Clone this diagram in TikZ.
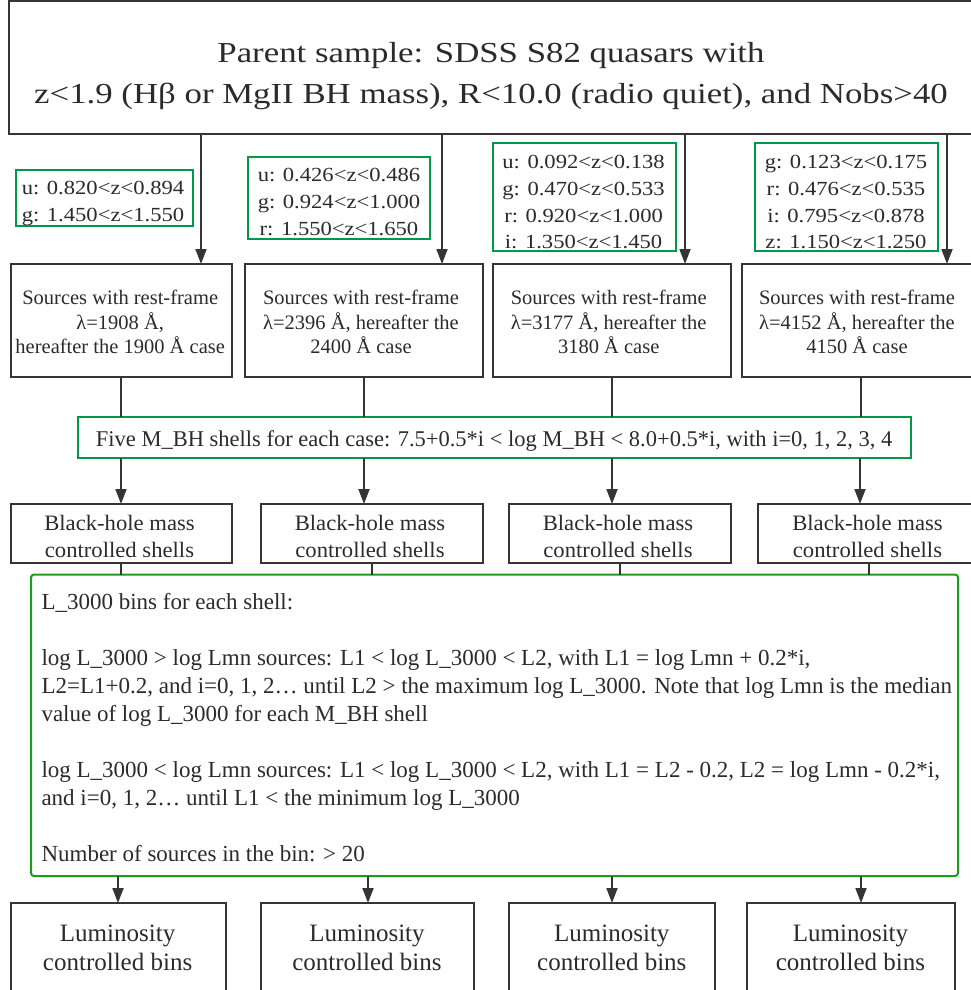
\documentclass[tikz,border=0pt]{standalone}
\usepackage{fontspec}
\setmainfont{Liberation Serif}
\newfontfamily\topfont[FakeStretch=1.2]{Liberation Serif}
\newfontfamily\zfont[FakeStretch=1.13]{Liberation Serif}
\newfontfamily\bhfont[FakeStretch=1.03]{Liberation Serif}
\usetikzlibrary{arrows.meta}
\definecolor{ink}{HTML}{2B2B2B}
\definecolor{lineink}{HTML}{353535}
\definecolor{zgreen}{HTML}{00994C}
\definecolor{bgreen}{HTML}{1E9A1E}
\begin{document}
\begin{tikzpicture}[x=1pt,y=-1pt,
 every node/.style={inner sep=0pt, outer sep=0pt, text=ink},
 blackbox/.style={draw=lineink, line width=2pt, fill=white},
 greenbox/.style={draw=zgreen, line width=2pt, fill=white},
 bigbox/.style={draw=bgreen, line width=2pt, rounded corners=3pt, fill=white},
 conn/.style={draw=lineink, line width=1.8pt},
 arr/.style={conn, -{Triangle[length=15pt,width=11pt]}},
 toptxt/.style={align=center, font=\topfont\fontsize{29}{41}\selectfont},
 ztxt/.style={align=center, font=\zfont\fontsize{20}{26.7}\selectfont},
 srctxt/.style={align=center, font=\fontsize{20.5}{24.2}\selectfont},
 fivetxt/.style={align=center, font=\fontsize{22.5}{27}\selectfont},
 bhtxt/.style={align=center, font=\bhfont\fontsize{22}{27}\selectfont},
 bigtxt/.style={align=left, font=\fontsize{23}{28}\selectfont},
 lumtxt/.style={align=center, font=\fontsize{25}{29}\selectfont},
]
\path[use as bounding box] (0,0) rectangle (971,990);
\clip (0,0) rectangle (971,990);
\fill[white] (0,0) rectangle (971,990);

% top box
\node[blackbox, minimum width=964pt, minimum height=133pt] (top) at (491,67.5) {};
\node[toptxt] (toptext) at (491,74.5) {\strut Parent sample: SDSS S82 quasars with\\ z<1.9 (Hβ or MgII BH mass), R<10.0 (radio quiet), and Nobs>40\strut};

% redshift boxes
\node[greenbox, minimum width=177pt, minimum height=56pt] (z1) at (104,198) {};
\node[greenbox, minimum width=182pt, minimum height=82pt] (z2) at (339,198) {};
\node[greenbox, minimum width=182.5pt, minimum height=108pt] (z3) at (584.25,197) {};
\node[greenbox, minimum width=183pt, minimum height=108pt] (z4) at (846.5,197) {};
\node[ztxt] (zt1) at (103,203) {\strut u: 0.820<z<0.894\\ g: 1.450<z<1.550\strut};
\node[ztxt] (zt2) at (339,203) {\strut u: 0.426<z<0.486\\ g: 0.924<z<1.000\\ r: 1.550<z<1.650\strut};
\node[ztxt] (zt3) at (583.6,203.5) {\strut u: 0.092<z<0.138\\ g: 0.470<z<0.533\\ r: 0.920<z<1.000\\ i: 1.350<z<1.450\strut};
\node[ztxt] (zt4) at (846,203.5) {\strut g: 0.123<z<0.175\\ r: 0.476<z<0.535\\ i: 0.795<z<0.878\\ z: 1.150<z<1.250\strut};

% source boxes
\node[blackbox, minimum width=221pt, minimum height=113pt] (s1) at (121,320.5) {};
\node[blackbox, minimum width=238pt, minimum height=113pt] (s2) at (364,320.5) {};
\node[blackbox, minimum width=238pt, minimum height=113pt] (s3) at (612,320.5) {};
\node[blackbox, minimum width=234pt, minimum height=113pt] (s4) at (859,320.5) {};
\node[srctxt] (st1) at (120.2,324.3) {\strut Sources with rest-frame\\ λ=1908 Å,\\ hereafter the 1900 Å case\strut};
\node[srctxt] (st2) at (361,324.3) {\strut Sources with rest-frame\\ λ=2396 Å, hereafter the\\ 2400 Å case\strut};
\node[srctxt] (st3) at (608.7,324.3) {\strut Sources with rest-frame\\ λ=3177 Å, hereafter the\\ 3180 Å case\strut};
\node[srctxt] (st4) at (857,324.3) {\strut Sources with rest-frame\\ λ=4152 Å, hereafter the\\ 4150 Å case\strut};

% five shells box
\node[greenbox, minimum width=833pt, minimum height=41pt] (five) at (494.5,437.5) {};
\node[fivetxt] (fivet) at (494.2,441.2) {\strut Five M\_BH shells for each case: 7.5+0.5*i < log M\_BH < 8.0+0.5*i, with i=0, 1, 2, 3, 4};

% black-hole boxes
\node[blackbox, minimum width=221pt, minimum height=59pt] (b1) at (121,533.5) {};
\node[blackbox, minimum width=222pt, minimum height=59pt] (b2) at (372,533.5) {};
\node[blackbox, minimum width=222pt, minimum height=59pt] (b3) at (620,533.5) {};
\node[blackbox, minimum width=220pt, minimum height=59pt] (b4) at (868,533.5) {};
\node[bhtxt] (bt1) at (119.5,538.6) {\strut Black-hole mass\\ controlled shells\strut};
\node[bhtxt] (bt2) at (370,538.6) {\strut Black-hole mass\\ controlled shells\strut};
\node[bhtxt] (bt3) at (618,538.6) {\strut Black-hole mass\\ controlled shells\strut};
\node[bhtxt] (bt4) at (867.5,538.6) {\strut Black-hole mass\\ controlled shells\strut};

% big box
\node[bigbox, minimum width=927pt, minimum height=301.5pt] (big) at (494.5,725.25) {};
\node[bigtxt, anchor=north west] (bigt) at (41.5,589.9) {\strut L\_3000 bins for each shell:\\[28pt]
log L\_3000 > log Lmn sources: L1 < log L\_3000 < L2, with L1 = log Lmn + 0.2*i,\\
L2=L1+0.2, and i=0, 1, 2… until L2 > the maximum log L\_3000. Note that log Lmn is the median\\
value of log L\_3000 for each M\_BH shell\\[28pt]
log L\_3000 < log Lmn sources: L1 < log L\_3000 < L2, with L1 = L2 - 0.2, L2 = log Lmn - 0.2*i,\\
and i=0, 1, 2… until L1 < the minimum log L\_3000\\[28pt]
Number of sources in the bin: > 20\strut};

% luminosity boxes
\node[blackbox, minimum width=215.5pt, minimum height=89pt] (l1) at (118.25,947.5) {};
\node[blackbox, minimum width=213pt, minimum height=89pt] (l2) at (367.5,947.5) {};
\node[blackbox, minimum width=206pt, minimum height=89pt] (l3) at (612,947.5) {};
\node[blackbox, minimum width=208pt, minimum height=89pt] (l4) at (851,947.5) {};
\node[lumtxt] (lt1) at (117.6,950.2) {\strut Luminosity\\ controlled bins\strut};
\node[lumtxt] (lt2) at (367,950.2) {\strut Luminosity\\ controlled bins\strut};
\node[lumtxt] (lt3) at (611.8,950.2) {\strut Luminosity\\ controlled bins\strut};
\node[lumtxt] (lt4) at (850.5,950.2) {\strut Luminosity\\ controlled bins\strut};

% connector x positions
\coordinate (a1) at (201,0); \coordinate (a2) at (442,0);
\coordinate (a3) at (685,0); \coordinate (a4) at (947,0);
\coordinate (c1) at (121,0); \coordinate (c2) at (364,0);
\coordinate (c3) at (612,0); \coordinate (c4) at (861,0);
\coordinate (d1) at (121,0); \coordinate (d2) at (364,0);
\coordinate (d3) at (612,0); \coordinate (d4) at (860,0);
\coordinate (e1) at (121,0); \coordinate (e2) at (372,0);
\coordinate (e3) at (620,0); \coordinate (e4) at (869,0);
\coordinate (f1) at (118,0); \coordinate (f2) at (368,0);
\coordinate (f3) at (612,0); \coordinate (f4) at (861,0);

\foreach \i in {1,2,3,4}{
  \draw[arr] (top.south -| a\i) -- (s\i.north -| a\i);
  \draw[conn] (s\i.south -| c\i) -- (five.north -| c\i);
  \draw[arr] (five.south -| d\i) -- (b\i.north -| d\i);
  \draw[conn] (b\i.south -| e\i) -- (big.north -| e\i);
  \draw[arr] (big.south -| f\i) -- (l\i.north -| f\i);
}
\end{tikzpicture}
\end{document}
